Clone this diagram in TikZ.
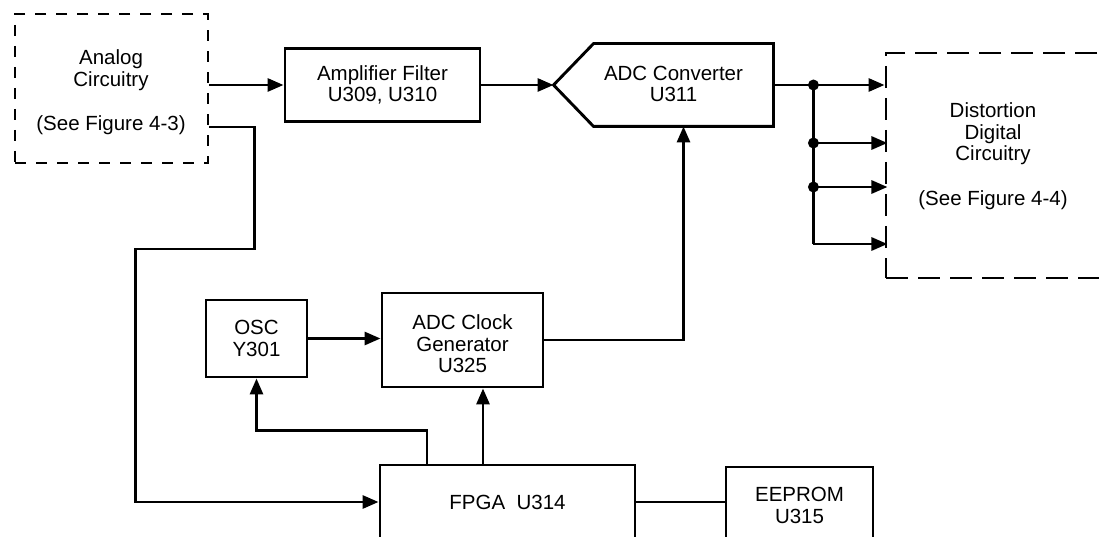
\documentclass[tikz,border=0pt]{standalone}
\usepackage{fontspec}
\setmainfont{Liberation Sans}
\usetikzlibrary{arrows.meta}

\begin{document}
\begin{tikzpicture}[x = 1pt, y = -1pt, line width = 2.9pt,
    box/.style = {draw, align=center, inner sep=0pt, font=\fontsize{20.5}{21.5}\selectfont},
    lbl/.style = {align=center, inner sep=0pt, font=\fontsize{20.5}{21.5}\selectfont},
    arr/.style = {-{Triangle[length=16pt, width=13pt]}},
    dot/.style = {circle, fill, inner sep=0pt, minimum size=11pt}]
    \useasboundingbox (0, 0) rectangle (1099, 537);

    % blocks
    \node[box, dash pattern=on 11pt off 10pt, minimum width=193, minimum height=149]
        (analog) at (111.5, 88.5) {};
    \node[lbl] (analoglbl) at (111, 92.5) {Analog\\Circuitry\\[23pt](See Figure 4-3)};
    \node[box, minimum width=195, minimum height=73] (amp) at (382.5, 85) {Amplifier Filter\\U309, U310};
    \node[box, draw=none, minimum width=177, minimum height=80] (adc) at (683.5, 85) {};
    \coordinate (adctip) at ([xshift=-40pt]adc.west);
    \draw (adctip) -- (adc.north west) -- (adc.north east)
        -- (adc.south east) -- (adc.south west) -- cycle;
    \node[lbl] (adclbl) at ([xshift=-10pt, yshift=1pt]adc.center) {ADC Converter\\U311};
    \node[box, dash pattern=on 22pt off 10pt, minimum width=217, minimum height=225]
        (dist) at (994.5, 165.5) {};
    \node[lbl] (distlbl) at (993, 156)
        {Distortion\\Digital\\Circuitry\\[23pt](See Figure 4-4)};
    \node[box, minimum width=101, minimum height=77] (osc) at (256.5, 338.5) {OSC\\Y301};
    \node[box, minimum width=161, minimum height=94] (adcclk) at (462.5, 340) {};
    \node[lbl] (adcclklbl) at (462.5, 344) {ADC Clock\\Generator\\U325};
    \node[box, minimum width=255, minimum height=74] (fpga) at (507.5, 502) {FPGA\ \ U314};
    \node[box, minimum width=147, minimum height=77] (eeprom) at (799.5, 505.5) {EEPROM\\U315};

    % signal path
    \draw[arr] (analog.east |- amp.west) -- (amp.west);
    \draw[arr] (amp.east) -- (adctip);
    \coordinate (split) at ([xshift=40pt]adc.east);
    \draw[arr] (adc.east) -- (dist.west |- adc.east);
    \draw (split) -- ++(0, 159);
    \foreach \dy/\n in {58/b, 102/c, 159/d}
        \draw[arr] ([yshift=-\dy pt]split) -- ++(74, 0);
    \foreach \dy/\n in {0/a, 58/b, 102/c}
        \node[dot] (dot\n) at ([yshift=-\dy pt]split) {};

    % clocks and control
    \draw[arr] ([yshift=-38.5pt]analog.east) -- ++(45, 0) -- ++(0, 122)
        -- ++(-119, 0) |- (fpga.west);
    \draw[arr] (osc.east) -- (osc.east -| adcclk.west);
    \draw[arr] (adcclk.east) -| (adc.south);
    \draw[arr] ([xshift=-24.5pt]fpga.north) -- ([xshift=-24.5pt]fpga.north |- adcclk.south);
    \draw[arr] ([xshift=-80.5pt]fpga.north) -- ++(0, -33) -| (osc.south);
    \draw (fpga.east) -- (fpga.east -| eeprom.west);
%    \draw (eeprom.south) -- ++(0, 40);
\end{tikzpicture}
\end{document}
